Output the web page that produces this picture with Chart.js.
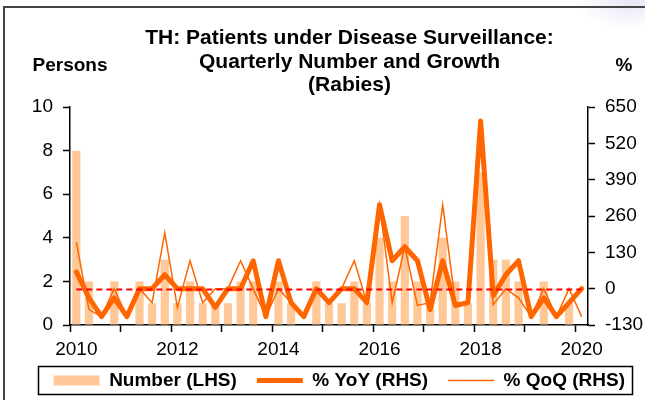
<!DOCTYPE html>
<html>
<head>
<meta charset="utf-8">
<title>TH: Patients under Disease Surveillance (Rabies)</title>
<script src="https://cdn.jsdelivr.net/npm/chart.js@4.4.1/dist/chart.umd.min.js"></script>
<style>
  html, body { margin: 0; padding: 0; background: #fff; }
  #wrap { position: relative; width: 645px; height: 400px; overflow: hidden; }
  #frame {
    position: absolute; left: 3px; top: 6px; width: 700px; height: 500px;
    border-left: 2px solid #444; border-top: 2px solid #444;
  }
  #corner {
    position: absolute; right: -40px; top: -30px; width: 110px; height: 60px;
    background: radial-gradient(ellipse at center, #e6e6f5 0%, rgba(240,240,250,0) 70%);
  }
  canvas { position: absolute; left: 0; top: 0; }
</style>
</head>
<body>
<div id="wrap">
  <div id="corner"></div>
  <div id="frame"></div>
  <canvas id="chart" width="645" height="400"></canvas>
</div>
<script>
// Quarters 2010Q1 - 2020Q1
const quarters = [
  '2010Q1', '2010Q2', '2010Q3', '2010Q4',
  '2011Q1', '2011Q2', '2011Q3', '2011Q4',
  '2012Q1', '2012Q2', '2012Q3', '2012Q4',
  '2013Q1', '2013Q2', '2013Q3', '2013Q4',
  '2014Q1', '2014Q2', '2014Q3', '2014Q4',
  '2015Q1', '2015Q2', '2015Q3', '2015Q4',
  '2016Q1', '2016Q2', '2016Q3', '2016Q4',
  '2017Q1', '2017Q2', '2017Q3', '2017Q4',
  '2018Q1', '2018Q2', '2018Q3', '2018Q4',
  '2019Q1', '2019Q2', '2019Q3', '2019Q4',
  '2020Q1'
];

// Number of patients (LHS, persons)
const patients = [
  8, 2, 0, 2,
  0, 2, 1, 3,
  1, 2, 1, 1,
  1, 2, 2, 0,
  2, 1, 0, 2,
  1, 1, 2, 1,
  4, 2, 5, 2,
  1, 4, 2, 1,
  7, 3, 3, 2,
  0, 2, 0, 1,
  0
];

// % YoY (RHS)
const yoyGrowth = [
  60, -33, -100, -33,
  -100, 0, 0, 50,
  0, 0, 0, -67,
  0, 0, 100, -100,
  100, -50, -100, 0,
  -50, 0, 0, -50,
  300, 100, 150, 100,
  -75, 100, -60, -50,
  600, -25, 50, 100,
  -100, -33, -100, -50,
  0
];

// % QoQ (RHS)
const qoqGrowth = [
  167, -75, -100, 0,
  -100, 0, -50, 200,
  -67, 100, -50, 0,
  0, 100, 0, -100,
  0, -50, -100, 0,
  -50, 0, 100, -50,
  300, -50, 150, -60,
  -50, 300, -50, -50,
  600, -57, 0, -33,
  -100, 0, -100, 0,
  -100
];

const leftTicks = { min: 0, max: 10, step: 2 };
const rightTicks = { min: -130, max: 650, step: 130 };
const refLevel = 0;

const FONT = "'Liberation Sans', Arial, sans-serif";
Chart.defaults.font.family = FONT;
Chart.defaults.color = '#000';

// dashed reference line, axis captions and legend frame
const extras = {
  id: 'extras',
  afterLayout(chart) {
    // title sits a bit right of the canvas centre
    chart.titleBlock.left += 54;
    // let the year labels spill below the (short) x axis box without clipping
    chart.scales.x.bottom += 14;
  },
  afterDatasetsDraw(chart) {
    const x = chart.scales.x;
    const y1 = chart.scales.y1;
    const ctx = chart.ctx;
    const yy = Math.round(y1.getPixelForValue(refLevel)) + 0.5;
    ctx.save();
    ctx.strokeStyle = '#ff0000';
    ctx.lineWidth = 2;
    ctx.setLineDash([6, 4]);
    ctx.beginPath();
    ctx.moveTo(x.getPixelForValue(0), yy);
    ctx.lineTo(x.getPixelForValue(quarters.length - 1), yy);
    ctx.stroke();
    ctx.restore();
  },
  afterDraw(chart) {
    const ctx = chart.ctx;
    const area = chart.chartArea;
    ctx.save();
    ctx.fillStyle = '#000';
    ctx.font = 'bold 19px ' + FONT;
    ctx.textAlign = 'center';
    ctx.textBaseline = 'middle';
    ctx.fillText('Persons', area.left, 66);
    ctx.fillText('%', area.right + 36, 66);

    // frame round the legend row
    const lg = chart.legend;
    const mid = lg.top + lg.options.labels.padding + 9.5;
    ctx.strokeStyle = '#000';
    ctx.lineWidth = 1.5;
    ctx.strokeRect(38.5, mid - 14, chart.width - 51, 28);
    ctx.restore();
  }
};

new Chart(document.getElementById('chart'), {
  data: {
    labels: quarters,
    datasets: [
      {
        type: 'bar',
        label: 'Number (LHS)',
        data: patients,
        yAxisID: 'y',
        backgroundColor: '#ffc896',
        borderWidth: 0,
        barPercentage: 0.65,
        categoryPercentage: 1,
        pointStyle: 'rect',
        order: 3
      },
      {
        type: 'line',
        label: '% YoY (RHS)',
        data: yoyGrowth,
        yAxisID: 'y1',
        borderColor: '#ff6600',
        backgroundColor: '#ff6600',
        borderWidth: 5,
        borderJoinStyle: 'round',
        borderCapStyle: 'round',
        pointRadius: 0,
        tension: 0,
        pointStyle: 'line',
        order: 2
      },
      {
        type: 'line',
        label: '% QoQ (RHS)',
        data: qoqGrowth,
        yAxisID: 'y1',
        borderColor: '#ff6600',
        backgroundColor: '#ff6600',
        borderWidth: 1.5,
        pointRadius: 0,
        tension: 0,
        pointStyle: 'line',
        order: 1
      }
    ]
  },
  options: {
    responsive: false,
    animation: false,
    layout: { padding: 0 },
    plugins: {
      title: {
        display: true,
        text: [
          'TH: Patients under Disease Surveillance:',
          'Quarterly Number and Growth',
          '(Rabies)'
        ],
        color: '#000',
        font: { size: 21, weight: 'bold', lineHeight: 1.12 },
        padding: { top: 26.5, bottom: 10 }
      },
      legend: {
        position: 'bottom',
        align: 'end',
        labels: {
          usePointStyle: true,
          pointStyleWidth: 46,
          boxHeight: 10,
          padding: 20,
          color: '#000',
          font: { size: 19, weight: 'bold' },
          sort: (a, b) => a.datasetIndex - b.datasetIndex
        }
      },
      tooltip: { enabled: false }
    },
    scales: {
      x: {
        type: 'category',
        offset: true,
        grid: {
          offset: true,
          drawOnChartArea: false,
          tickLength: 7,
          tickWidth: 1.5,
          tickColor: c => (c.index % 4 === 0 ? '#000' : 'rgba(0,0,0,0)')
        },
        border: { display: true, color: '#000', width: 1.5 },
        ticks: {
          autoSkip: false,
          maxRotation: 0,
          padding: 6,
          color: '#000',
          font: { size: 19 },
          callback: function (v, i) {
            return i % 8 === 0 ? this.getLabelForValue(v).slice(0, 4) : '';
          }
        },
        afterFit: s => { s.height = 26; }
      },
      y: {
        position: 'left',
        min: leftTicks.min,
        max: leftTicks.max,
        grid: { drawOnChartArea: false, tickLength: 7, tickWidth: 1.5, tickColor: '#000' },
        border: { display: true, color: '#000', width: 1.5 },
        ticks: { stepSize: leftTicks.step, padding: 10, color: '#000', font: { size: 19 } },
        afterFit: s => { s.width = 70; }
      },
      y1: {
        position: 'right',
        min: rightTicks.min,
        max: rightTicks.max,
        grid: { drawOnChartArea: false, tickLength: 7, tickWidth: 1.5, tickColor: '#000' },
        border: { display: true, color: '#000', width: 1.5 },
        ticks: { stepSize: rightTicks.step, padding: 10, color: '#000', font: { size: 19 } },
        afterFit: s => { s.width = 57; }
      }
    }
  },
  plugins: [extras]
});
</script>
</body>
</html>
